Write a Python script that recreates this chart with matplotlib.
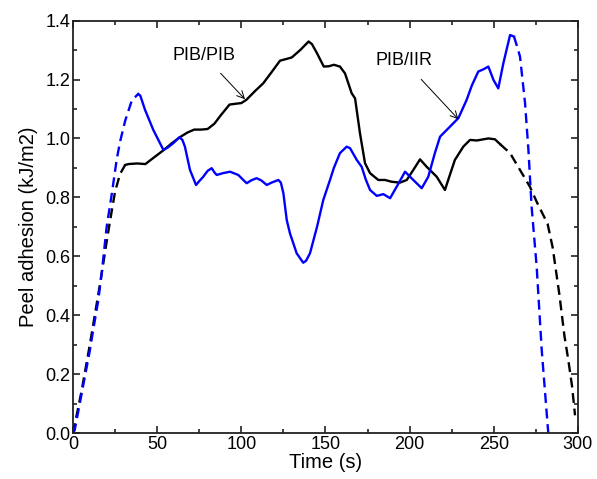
import matplotlib
matplotlib.use("Agg")
import matplotlib.pyplot as plt
from matplotlib.ticker import MultipleLocator

plt.rcParams['font.family'] = ['Liberation Sans', 'DejaVu Sans']

# PIB/PIB (black)
pp_start_t = [0, 5, 10, 15, 18, 20, 22, 25, 28, 31]
pp_start_v = [0, 0.14, 0.30, 0.47, 0.576, 0.65, 0.72, 0.82, 0.88, 0.91]

pp_t = [31, 33, 38, 43, 48, 54, 59, 64, 68, 72, 76, 80, 84, 88, 93, 97, 100,
        103, 108, 113, 118, 123, 127, 130, 135, 140, 142, 145, 149, 152, 155,
        158.6, 161.6, 165.6, 167.6, 170.5, 173.5, 176.5, 181.4, 185.4, 189.3,
        194.3, 198.3, 202.2, 206.2, 210.1, 216.1, 221, 223, 226.9, 231.9,
        235.9, 239.9, 246.8, 250.7, 253.7]
pp_v = [0.91, 0.913, 0.915, 0.913, 0.935, 0.961, 0.985, 1.006, 1.02, 1.03,
        1.03, 1.032, 1.05, 1.08, 1.115, 1.118, 1.12, 1.131, 1.16, 1.187,
        1.225, 1.264, 1.27, 1.275, 1.30, 1.329, 1.32, 1.289, 1.244, 1.245,
        1.25, 1.244, 1.221, 1.153, 1.136, 1.018, 0.916, 0.882, 0.859, 0.859,
        0.853, 0.850, 0.859, 0.893, 0.929, 0.904, 0.870, 0.825, 0.86, 0.927,
        0.972, 0.995, 0.993, 1.0, 0.997, 0.981]

pp_end_t = [253.7, 259.7, 265.6, 271.5, 275.5, 279.4, 282, 285, 289, 292,
            294.3, 296.5, 298.3]
pp_end_v = [0.981, 0.95, 0.893, 0.836, 0.785, 0.74, 0.71, 0.63, 0.47, 0.33,
            0.248, 0.16, 0.06]

# PIB/IIR (blue)
pi_start_t = [0, 1, 4, 7, 10, 12, 15, 17, 20, 23, 26, 28, 31, 35, 38.8]
pi_start_v = [0, 0.01, 0.1, 0.19, 0.28, 0.35, 0.45, 0.54, 0.70, 0.81, 0.93,
              0.99, 1.06, 1.13, 1.151]

pi_t = [38.8, 40, 42.8, 47.7, 53.7, 56.5, 59.6, 63.2, 65, 66.5, 69.5, 73.1,
        75, 77.4, 80, 82.4, 84, 85.4, 89, 93.3, 98.2, 101, 103.2, 106, 109.1,
        112, 115.1, 118, 122, 123.5, 125, 127, 128.9, 132.9, 136.8, 138.5,
        140.8, 145, 148.7, 152.7, 155, 158.6, 162.6, 164.6, 168.6, 171.5, 174,
        176.5, 180.5, 184.4, 188.4, 192.3, 197.3, 202.2, 207.2, 211.1, 215,
        218.1, 224, 229, 233.9, 237, 240.8, 244, 246.8, 249.8, 252.7, 255.7,
        259.7, 262]
pi_v = [1.151, 1.145, 1.097, 1.029, 0.961, 0.97, 0.984, 1.004, 0.995, 0.972,
        0.893, 0.842, 0.855, 0.870, 0.89, 0.899, 0.885, 0.876, 0.882, 0.887,
        0.876, 0.86, 0.848, 0.858, 0.865, 0.857, 0.842, 0.85, 0.859, 0.85,
        0.814, 0.723, 0.678, 0.610, 0.578, 0.585, 0.610, 0.70, 0.791, 0.859,
        0.90, 0.95, 0.972, 0.967, 0.927, 0.904, 0.86, 0.825, 0.805, 0.811,
        0.797, 0.836, 0.887, 0.859, 0.831, 0.870, 0.95, 1.006, 1.040, 1.069,
        1.131, 1.18, 1.227, 1.235, 1.244, 1.199, 1.170, 1.255, 1.351, 1.346]

pi_end_t = [262, 264, 265.6, 268.6, 270.6, 272.5, 275.5, 278.5, 282.4]
pi_end_v = [1.346, 1.31, 1.278, 1.12, 0.961, 0.768, 0.565, 0.282, 0.0]

fig = plt.figure(figsize=(5.97, 4.79), dpi=100)
ax = fig.add_axes([0.1223, 0.096, 0.8457, 0.861])

lw = 1.7
dash = (4.2, 2.4)
ax.plot(pp_start_t, pp_start_v, color='black', lw=lw, dashes=dash, clip_on=False)
ax.plot(pp_t, pp_v, color='black', lw=lw)
ax.plot(pp_end_t, pp_end_v, color='black', lw=lw, dashes=dash, clip_on=False)
ax.plot(pi_start_t, pi_start_v, color='#0000ff', lw=lw, dashes=dash, clip_on=False)
ax.plot(pi_t, pi_v, color='#0000ff', lw=lw)
ax.plot(pi_end_t, pi_end_v, color='#0000ff', lw=lw, dashes=dash, clip_on=False)

ax.annotate('PIB/PIB', xy=(102.2, 1.133), xytext=(78, 1.28),
            fontsize=13, ha='center', va='center',
            arrowprops=dict(arrowstyle='->', lw=0.7, color='black',
                            shrinkA=6, shrinkB=0))
ax.annotate('PIB/IIR', xy=(229, 1.065), xytext=(196.7, 1.263),
            fontsize=13, ha='center', va='center',
            arrowprops=dict(arrowstyle='->', lw=0.7, color='black',
                            shrinkA=7, shrinkB=0))

ax.set_xlim(0, 300)
ax.set_ylim(0, 1.4)
ax.xaxis.set_major_locator(MultipleLocator(50))
ax.xaxis.set_minor_locator(MultipleLocator(25))
ax.yaxis.set_major_locator(MultipleLocator(0.2))
ax.yaxis.set_minor_locator(MultipleLocator(0.1))
ax.yaxis.set_major_formatter(plt.FormatStrFormatter('%.1f'))
ax.tick_params(which='both', direction='in', top=True, right=True,
               labelsize=13, pad=2, width=1.2, color='#222222')
ax.tick_params(which='major', length=5)
ax.tick_params(which='minor', length=3)
for s in ax.spines.values():
    s.set_linewidth(1.3)
    s.set_color('#222222')

ax.set_xlabel('Time (s)', fontsize=14.5, labelpad=0)
ax.set_ylabel('Peel adhesion (kJ/m2)', fontsize=14.5, labelpad=5)

fig.savefig('out.png', dpi=100)
